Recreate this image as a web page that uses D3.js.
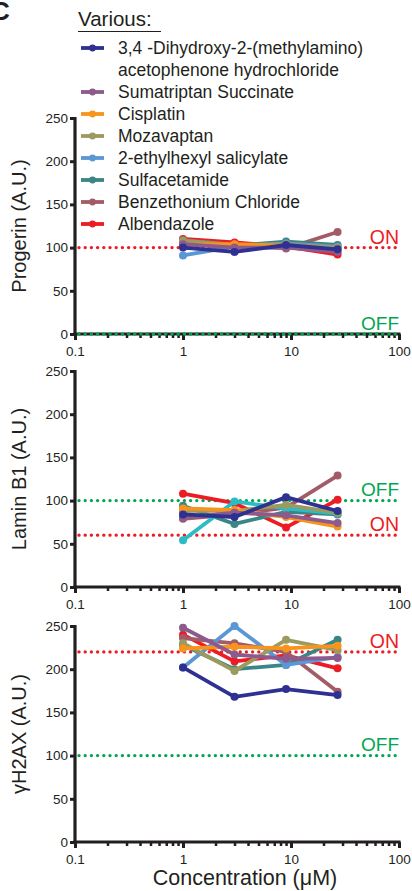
<!DOCTYPE html>
<html><head><meta charset="utf-8">
<script src="https://cdn.jsdelivr.net/npm/d3@7"></script>
<style>body{margin:0;background:#fff}svg{display:block;font-family:Arial,"Liberation Sans",sans-serif}</style>
</head><body>
<svg id="c" width="412" height="891"></svg>
<script>
const concentrations = [1, 3, 9, 27];
const compounds = ["3,4 -Dihydroxy-2-(methylamino)", "Sumatriptan Succinate", "Cisplatin", "Mozavaptan",
  "2-ethylhexyl salicylate", "Sulfacetamide", "Benzethonium Chloride", "Albendazole"];
const compoundLine2 = ["acetophenone hydrochloride", "", "", "", "", "", "", ""];
const colors = ["#2e3192", "#8c5a8c", "#f7941d", "#9c9a5e", "#5b97d5", "#3a8585", "#a35c67", "#ed1c24"];
const panelColorOverride = [{}, {4: "#2bbcc4"}, {}];

const progerin = [
  [100, 95, 103, 98],
  [104, 100, 100, 95],
  [103, 104, 102, 96],
  [108, 103, 104, 100],
  [91, 101, 105, 101],
  [106, 102, 107, 103],
  [109, 103, 99, 118],
  [110, 106, 101, 92]
];
const laminB1 = [
  [84, 81, 104, 88],
  [80, 86, 83, 74],
  [91, 89, 81, 70],
  [88, 88, 95, 86],
  [54, 99, 91, 85],
  [94, 73, 87, 84],
  [79, 84, 92, 129],
  [108, 97, 69, 101]
];
const gH2AX = [
  [202, 168, 177, 170],
  [248, 217, 212, 213],
  [224, 226, 224, 227],
  [230, 198, 234, 222],
  [202, 250, 205, 214],
  [228, 200, 205, 234],
  [236, 230, 220, 174],
  [240, 209, 216, 201]
];
const yTicks = [0, 50, 100, 150, 200, 250];
const xTicks = [0.1, 1, 10, 100];
const xTickLabels = ["0.1", "1", "10", "100"];
const panelTitles = ["Progerin (A.U.)", "Lamin B1 (A.U.)", "\u03B3H2AX (A.U.)"];
const onLevels = [100, 60, 220];
const offLevels = [0, 100, 100];
const xTitle = "Concentration (\u03BCM)";

const svg = d3.select("#c");
const X0 = 75, X1 = 399;
const x = d3.scaleLog().domain([0.1, 100]).range([X0, X1]);
const panelTops = [118, 371, 626];
const panelH = 216;
const panels = [progerin, laminB1, gH2AX];
const RED = "#ed1c24", GREEN = "#00a651", INK = "#231f20";

// panel letter (cut off at the edge, as in the original figure)
svg.append("text").attr("x", -9).attr("y", 20).attr("font-size", 26).attr("font-weight", "bold").attr("fill", INK).text("C");

// legend
const lg = svg.append("g");
lg.append("text").attr("x", 78).attr("y", 26).attr("font-size", 20.5).attr("fill", INK).text("Various:");
lg.append("line").attr("x1", 78).attr("x2", 161).attr("y1", 31.5).attr("y2", 31.5).attr("stroke", INK).attr("stroke-width", 1);
let ly = 48;
compounds.forEach((name, i) => {
  lg.append("line").attr("x1", 81).attr("x2", 104).attr("y1", ly).attr("y2", ly)
    .attr("stroke", colors[i]).attr("stroke-width", 3.8);
  lg.append("circle").attr("cx", 92.5).attr("cy", ly).attr("r", 3.4).attr("fill", colors[i]);
  lg.append("text").attr("x", 118).attr("y", ly + 6).attr("font-size", 17.5).attr("fill", INK).text(name);
  if (compoundLine2[i]) {
    ly += 22;
    lg.append("text").attr("x", 118).attr("y", ly + 6).attr("font-size", 17.5).attr("fill", INK).text(compoundLine2[i]);
  }
  ly += 22;
});

panels.forEach((data, p) => {
  const top = panelTops[p];
  const y = d3.scaleLinear().domain([0, 250]).range([top + panelH, top]);
  const g = svg.append("g");

  const ref = (v, c) => g.append("line").attr("x1", X0 + 4).attr("x2", X1).attr("y1", y(v)).attr("y2", y(v))
    .attr("stroke", c).attr("stroke-width", 3.4).attr("stroke-linecap", "round").attr("stroke-dasharray", "0 6.2");

  // axes
  const yAxis = d3.axisLeft(y).tickValues(yTicks).tickSize(5).tickPadding(2);
  const ya = g.append("g").attr("transform", `translate(${X0},0)`).call(yAxis);
  ya.select(".domain").attr("stroke", INK).attr("stroke-width", 3.2).attr("d", `M0,${top - 1}V${top + panelH + 1.5}`);
  ya.selectAll(".tick line").attr("stroke", INK).attr("stroke-width", 3).attr("x2", -5);
  ya.selectAll(".tick text").attr("font-size", 13.5).attr("fill", INK).attr("font-family", "Arial, Liberation Sans, sans-serif");

  const minor = [];
  for (let d = 0.1; d < 100; d *= 10) for (let k = 2; k <= 9; k++) minor.push(+(d * k).toPrecision(3));
  const xm = d3.axisBottom(x).tickValues(minor).tickSize(4).tickFormat("");
  const xma = g.append("g").attr("transform", `translate(0,${top + panelH})`).call(xm);
  xma.select(".domain").remove();
  xma.selectAll(".tick line").attr("stroke", INK).attr("stroke-width", 2.5);

  const xAxis = d3.axisBottom(x).tickValues(xTicks).tickSize(6).tickPadding(6).tickFormat((d, i) => xTickLabels[i]);
  const xa = g.append("g").attr("transform", `translate(0,${top + panelH})`).call(xAxis);
  xa.select(".domain").attr("stroke", INK).attr("stroke-width", 3.2).attr("d", `M${X0 - 1.5},0H${X1 + 1.5}`);
  xa.selectAll(".tick line").attr("stroke", INK).attr("stroke-width", 3);
  xa.selectAll(".tick text").attr("font-size", 13.5).attr("fill", INK).attr("font-family", "Arial, Liberation Sans, sans-serif");

  ref(onLevels[p], RED);
  ref(offLevels[p], GREEN);

  g.append("text").attr("x", X1).attr("y", y(onLevels[p]) - 4).attr("text-anchor", "end")
    .attr("font-size", 19.5).attr("fill", RED).text("ON");
  g.append("text").attr("x", X1).attr("y", y(offLevels[p]) - 4.5).attr("text-anchor", "end")
    .attr("font-size", 19).attr("fill", GREEN).text("OFF");

  g.append("text").attr("transform", `translate(26,${top + panelH / 2}) rotate(-90)`).attr("text-anchor", "middle")
    .attr("font-size", 20).attr("fill", INK).text(panelTitles[p]);

  // series
  const line = d3.line().x((d, i) => x(concentrations[i])).y(d => y(d));
  const order = d3.range(compounds.length).reverse();
  order.forEach(i => {
    const col = panelColorOverride[p][i] || colors[i];
    g.append("path").attr("d", line(data[i])).attr("fill", "none").attr("stroke", col)
      .attr("stroke-width", 3.8).attr("stroke-linejoin", "round");
    g.selectAll(null).data(data[i]).enter().append("circle")
      .attr("cx", (d, k) => x(concentrations[k])).attr("cy", d => y(d)).attr("r", 4).attr("fill", col);
  });
});

svg.append("text").attr("x", 245).attr("y", 885).attr("text-anchor", "middle").attr("font-size", 21.5)
  .attr("fill", INK).text(xTitle);
</script>
</body></html>
